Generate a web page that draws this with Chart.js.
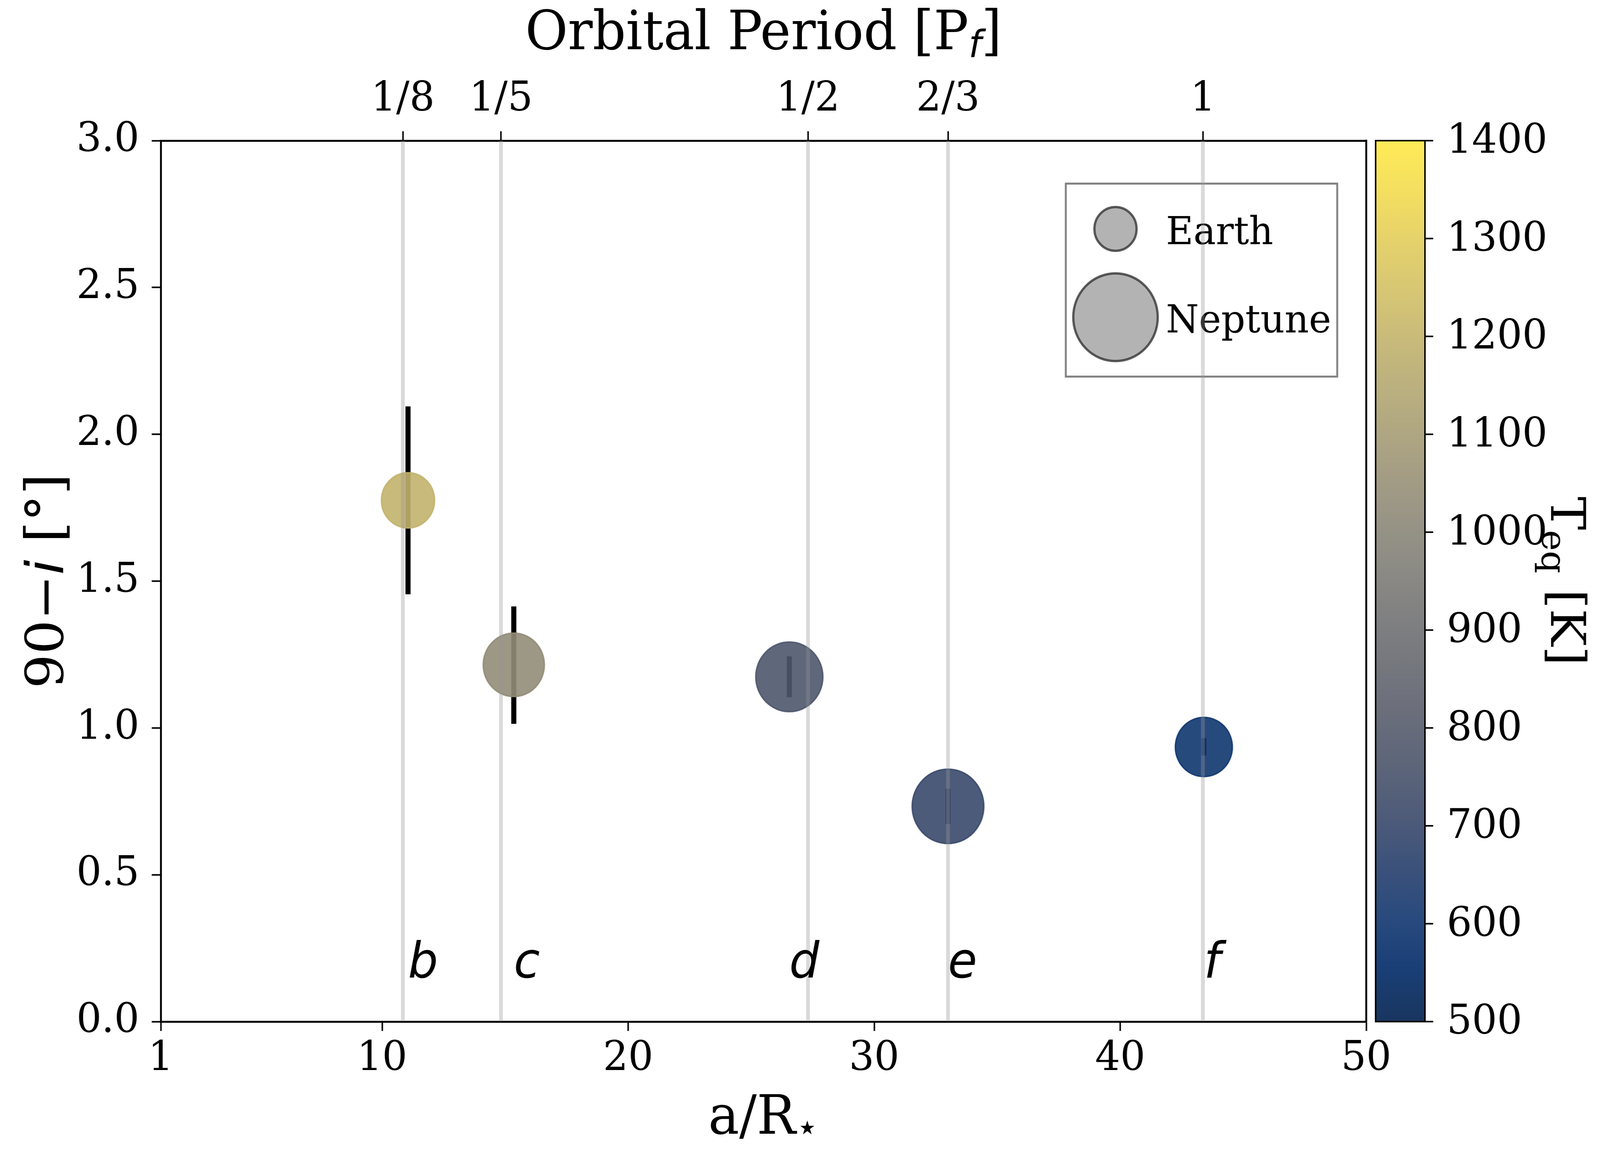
<!DOCTYPE html>
<html lang="en">
<head>
<meta charset="UTF-8">
<title>Inclination vs a/R*</title>
<script src="https://cdn.jsdelivr.net/npm/chart.js"></script>
<style>
  html, body { margin: 0; padding: 0; overflow: hidden; background: #fff; }
  #myChart { display: block; }
</style>
</head>
<body>
<canvas id="myChart" width="4250" height="3000" style="width:100vw;height:100vh"></canvas>
<script>
// planets b..f
const planetNames = ['b', 'c', 'd', 'e', 'f'];
const aOverR = [11.05, 15.35, 26.55, 33.0, 43.4];
const incl = [1.775, 1.215, 1.174, 0.733, 0.935];      // 90 - i  [deg]
const inclLo = [1.455, 1.014, 1.105, 0.673, 0.906];
const inclHi = [2.095, 1.414, 1.244, 0.793, 0.965];
const radiusEarth = [1.56, 2.05, 2.46, 2.80, 1.79];    // R_p / R_earth
const teq = [1193, 1029, 770, 707, 600];               // K

// period commensurabilities with planet f (top axis)
const periodLabels = ['1/8', '1/5', '1/2', '2/3', '1'];
const periodAR = [10.84, 14.83, 27.31, 33.0, 43.36];

const xTicks = [1, 10, 20, 30, 40, 50];
const teqTicks = [500, 600, 700, 800, 900, 1000, 1100, 1200, 1300, 1400];

const legendNames = ['Earth', 'Neptune'];
const legendRadii = [1, 3.88];

// cividis colormap samples
const cividis = [[0,32,77],[0,42,104],[18,55,112],[39,63,108],[60,74,107],[76,85,107],
  [91,95,109],[104,106,112],[117,117,117],[131,129,120],[146,140,120],[161,152,118],
  [176,165,114],[192,177,109],[209,191,102],[225,204,92],[243,219,79],[255,233,69]];

function cmap(t) {
    t = Math.max(0, Math.min(1, t));
    const p = t * (cividis.length - 1);
    const i = Math.min(Math.floor(p), cividis.length - 2);
    const f = p - i;
    return cividis[i].map((c, k) => Math.round(c + (cividis[i + 1][k] - c) * f));
}
function teqColor(T, a) {
    const c = cmap((T - 500) / 900);
    return `rgba(${c[0]},${c[1]},${c[2]},${a})`;
}
// marker radius in px: area grows with planet radius
const sizePx = r => 58 * Math.sqrt(r) - 2;

const SERIF = '"DejaVu Serif"';
const SANS = '"DejaVu Sans"';

function richText(ctx, parts, x, y, align) {
    let w = 0;
    parts.forEach(p => { ctx.font = p[1]; w += ctx.measureText(p[0]).width; });
    let cx = align === 'center' ? x - w / 2 : x;
    ctx.textAlign = 'left';
    ctx.textBaseline = 'alphabetic';
    parts.forEach(p => {
        ctx.font = p[1];
        ctx.fillText(p[0], cx, y + (p[2] || 0));
        cx += ctx.measureText(p[0]).width;
    });
}

const datasets = [];

// resonance lines sit on top of the markers (semi-transparent)
periodAR.forEach(v => datasets.push({
    data: [{ x: v, y: 0 }, { x: v, y: 3 }],
    showLine: true, borderColor: 'rgba(150,150,150,0.36)', borderWidth: 10,
    pointRadius: 0, order: 0
}));

aOverR.forEach((v, i) => datasets.push({
    data: [{ x: v, y: inclLo[i] }, { x: v, y: inclHi[i] }],
    showLine: true, borderColor: '#000', borderWidth: 13.5, borderCapStyle: 'butt',
    pointRadius: 0, order: 5
}));

datasets.push({
    data: aOverR.map((v, i) => ({ x: v, y: incl[i] })),
    pointRadius: radiusEarth.map(sizePx),
    pointBackgroundColor: teq.map(t => teqColor(t, 0.9)),
    pointBorderColor: teq.map(t => teqColor(t, 0.9)),
    pointBorderWidth: 4,
    order: 1
});

const decor = {
    id: 'decor',
    beforeDatasetsDraw(chart) {
        const ctx = chart.ctx, a = chart.chartArea;
        ctx.save();
        // legend frame and entries
        ctx.fillStyle = '#fff';
        ctx.strokeStyle = '#808080';
        ctx.lineWidth = 5;
        ctx.fillRect(a.right - 798, a.top + 110, 721, 494);
        ctx.strokeRect(a.right - 798, a.top + 110, 721, 494);
        const lx = a.right - 666, ly = [a.top + 226, a.top + 452];
        legendNames.forEach((n, i) => {
            ctx.beginPath();
            ctx.arc(lx, ly[i], sizePx(legendRadii[i]), 0, Math.PI * 2);
            ctx.fillStyle = 'rgba(128,128,128,0.6)';
            ctx.fill();
            ctx.lineWidth = 6;
            ctx.strokeStyle = 'rgba(40,40,40,0.75)';
            ctx.stroke();
            ctx.fillStyle = '#000';
            ctx.font = `100px ${SERIF}`;
            ctx.textAlign = 'left';
            ctx.textBaseline = 'alphabetic';
            ctx.fillText(n, a.right - 532, ly[i] + 39);
        });
        ctx.restore();
    },
    afterDatasetsDraw(chart) {
        const ctx = chart.ctx, a = chart.chartArea;
        const xs = chart.scales.x, ys = chart.scales.y;
        ctx.save();
        // planet letters
        ctx.fillStyle = '#000';
        ctx.textAlign = 'left';
        ctx.textBaseline = 'alphabetic';
        ctx.font = `italic 126px ${SANS}`;
        planetNames.forEach((n, i) => {
            ctx.fillText(n, xs.getPixelForValue(aOverR[i]), ys.getPixelForValue(0.15));
        });
        // right spine
        ctx.strokeStyle = '#000';
        ctx.lineWidth = 5;
        ctx.beginPath();
        ctx.moveTo(a.right, a.top - 2.5);
        ctx.lineTo(a.right, a.bottom + 2.5);
        ctx.stroke();
        ctx.restore();
    },
    afterDraw(chart) {
        const ctx = chart.ctx, a = chart.chartArea;
        const cb = chart.scales.cb;
        const midX = (a.left + a.right) / 2, midY = (a.top + a.bottom) / 2;
        ctx.save();
        // colorbar
        const cl = a.right + 25, cw = 131, cr = cl + cw;
        const g = ctx.createLinearGradient(0, cb.bottom, 0, cb.top);
        cividis.forEach((c, i) => g.addColorStop(i / (cividis.length - 1), `rgba(${c[0]},${c[1]},${c[2]},0.9)`));
        ctx.fillStyle = g;
        ctx.fillRect(cl, cb.top, cw, cb.bottom - cb.top);
        ctx.strokeStyle = '#000';
        ctx.lineWidth = 4;
        ctx.strokeRect(cl, cb.top, cw, cb.bottom - cb.top);
        ctx.fillStyle = '#000';
        ctx.font = `105px ${SERIF}`;
        ctx.textAlign = 'left';
        ctx.textBaseline = 'middle';
        teqTicks.forEach(t => {
            const y = cb.getPixelForValue(t);
            ctx.beginPath();
            ctx.moveTo(cr, y);
            ctx.lineTo(cr + 22, y);
            ctx.stroke();
            ctx.fillText(String(t), cr + 58, y + 4);
        });
        // colorbar label
        ctx.save();
        ctx.translate(cr + 335, midY);
        ctx.rotate(Math.PI / 2);
        richText(ctx, [['T', `128px ${SERIF}`], ['eq', `90px ${SERIF}`, 24], [' [K]', `128px ${SERIF}`]], 0, 0, 'center');
        ctx.restore();
        // axis titles
        richText(ctx, [['Orbital Period [P', `138px ${SERIF}`], ['f', `italic 97px ${SANS}`, 20], [']', `138px ${SERIF}`]], midX, 126, 'center');
        richText(ctx, [['a/R', `138px ${SERIF}`], ['\u22C6', `97px ${SANS}`, 16]], midX, 2902, 'center');
        ctx.save();
        ctx.translate(167, midY);
        ctx.rotate(-Math.PI / 2);
        richText(ctx, [['90\u2212', `138px ${SERIF}`], ['i', `italic 138px ${SANS}`], [' [\u00B0]', `138px ${SERIF}`]], 0, 0, 'center');
        ctx.restore();
        ctx.restore();
    }
};

const tickFont = { family: SERIF, size: 105 };
const axisGrid = { drawOnChartArea: false, drawTicks: true, tickLength: 24, tickWidth: 4, color: '#000' };
const axisBorder = { display: true, width: 5, color: '#000' };

const ctx = document.getElementById('myChart').getContext('2d');
new Chart(ctx, {
    type: 'scatter',
    data: { datasets: datasets },
    plugins: [decor],
    options: {
        responsive: false,
        animation: false,
        devicePixelRatio: 1,
        layout: { padding: { right: 621 } },
        plugins: { legend: { display: false }, tooltip: { enabled: false } },
        scales: {
            x: {
                type: 'linear', position: 'bottom', min: 1, max: 50,
                afterBuildTicks: s => { s.ticks = xTicks.map(v => ({ value: v })); },
                afterFit: s => { s.height = 385; },
                ticks: { font: tickFont, color: '#000', padding: 10, autoSkip: false, maxRotation: 0, callback: v => String(v) },
                grid: axisGrid, border: axisBorder
            },
            x2: {
                type: 'linear', position: 'top', axis: 'x', min: 1, max: 50,
                afterBuildTicks: s => { s.ticks = periodAR.map(v => ({ value: v })); },
                afterFit: s => { s.height = 360; },
                ticks: { font: tickFont, color: '#000', padding: 17, autoSkip: false, maxRotation: 0,
                         callback: (v, i) => periodLabels[i] },
                grid: axisGrid, border: axisBorder
            },
            y: {
                type: 'linear', position: 'left', min: 0, max: 3,
                afterFit: s => { s.width = 427; },
                ticks: { font: tickFont, color: '#000', padding: 33, stepSize: 0.5, callback: v => v.toFixed(1) },
                grid: axisGrid, border: axisBorder
            },
            cb: {
                type: 'linear', axis: 'y', position: 'right', display: false, min: 500, max: 1400
            }
        }
    }
});
</script>
</body>
</html>
